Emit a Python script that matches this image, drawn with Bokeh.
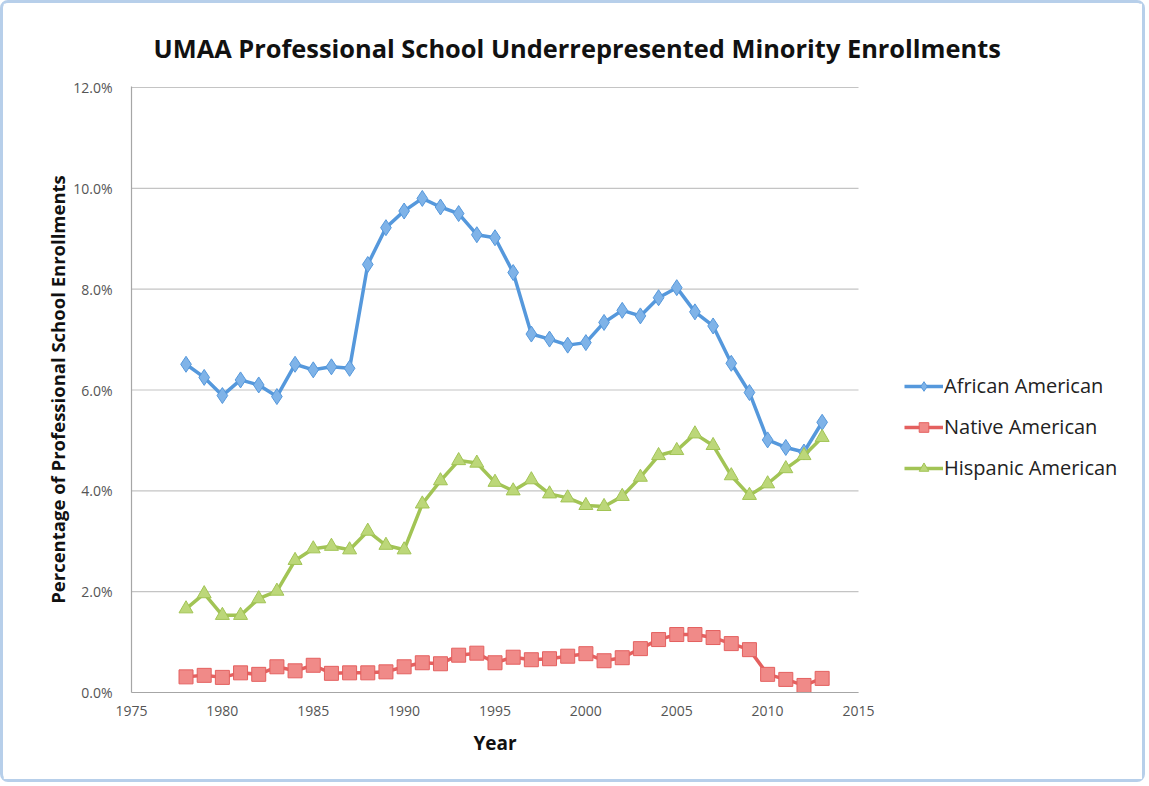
from bokeh.plotting import figure
from bokeh.models import (Legend, LegendItem, FixedTicker, PrintfTickFormatter,
                          Range1d, Title)
from bokeh.embed import file_html
from bokeh.resources import INLINE

years = list(range(1978, 2014))
african = [6.51, 6.25, 5.89, 6.20, 6.10, 5.87, 6.51, 6.40, 6.46, 6.43,
           8.49, 9.22, 9.55, 9.80, 9.63, 9.50, 9.08, 9.02, 8.33, 7.11,
           7.01, 6.89, 6.94, 7.34, 7.58, 7.47, 7.83, 8.03, 7.55, 7.27,
           6.53, 5.95, 5.01, 4.86, 4.77, 5.36]
native = [0.31, 0.34, 0.30, 0.39, 0.36, 0.51, 0.43, 0.54, 0.38, 0.39,
          0.39, 0.41, 0.51, 0.59, 0.57, 0.74, 0.78, 0.59, 0.70, 0.65,
          0.67, 0.72, 0.77, 0.63, 0.69, 0.87, 1.05, 1.15, 1.15, 1.09,
          0.97, 0.85, 0.36, 0.26, 0.14, 0.28]
hispanic = [1.66, 1.96, 1.53, 1.53, 1.86, 2.01, 2.62, 2.85, 2.90, 2.83,
            3.20, 2.92, 2.83, 3.74, 4.20, 4.60, 4.55, 4.17, 4.00, 4.22,
            3.94, 3.86, 3.71, 3.69, 3.89, 4.27, 4.70, 4.80, 5.13, 4.90,
            4.30, 3.91, 4.14, 4.44, 4.70, 5.06]
x_ticks = [1975, 1980, 1985, 1990, 1995, 2000, 2005, 2010, 2015]
y_ticks = [0, 2, 4, 6, 8, 10, 12]

title_text = "UMAA Professional School Underrepresented Minority Enrollments"
x_label = "Year"
y_label = "Percentage of Professional School Enrollments"
font = "Open Sans"

# The plotting frame is widened to the right so the legend (which sits
# right of the axes) is drawn inside the canvas; axis and grid are bounded
# to the real data window 1975-2015 (727 px wide).
W, H = 1145, 782
ML, MR, MT, MB = 128, 12, 83, 93
frame_w = W - ML - MR
x_end = 1975 + 40 * frame_w / 727

p = figure(width=W, height=H, output_backend="svg", toolbar_location=None,
           x_range=Range1d(1975, x_end), y_range=Range1d(0, 12.02),
           min_border_left=ML, min_border_right=MR, min_border_top=MT,
           min_border_bottom=MB, title=title_text)
p.styles = {"border": "3px solid #b7cfea", "border-radius": "8px"}
p.outline_line_color = None
p.background_fill_color = "white"
p.border_fill_color = "white"

p.title.text_font = font
p.title.text_font_size = "25.4px"
p.title.text_font_style = "bold"
p.title.text_color = "#111111"
p.title.align = "left"
p.title.offset = 22
p.title.standoff = 43

p.xaxis.ticker = FixedTicker(ticks=x_ticks)
p.yaxis.ticker = FixedTicker(ticks=y_ticks)
p.xaxis.bounds = (x_ticks[0], x_ticks[-1])
p.yaxis.formatter = PrintfTickFormatter(format="%.1f%%")
p.xgrid.grid_line_color = None
p.ygrid.grid_line_color = None
# horizontal grid lines limited to the 1975-2015 window
p.segment(x0=x_ticks[0], x1=x_ticks[-1], y0=y_ticks, y1=y_ticks,
          line_color="#c4c4c4", line_width=1.2, level="underlay")
for ax in (p.xaxis, p.yaxis):
    ax.axis_line_color = "#a6a6a6"
    ax.axis_line_width = 1.2
    ax.major_tick_line_color = None
    ax.minor_tick_line_color = None
    ax.major_label_text_font = font
    ax.major_label_text_font_size = "14px"
    ax.major_label_text_color = "#555555"
p.xaxis.major_label_standoff = 7
p.yaxis.major_label_standoff = 13
p.yaxis.axis_label = y_label
p.yaxis.axis_label_text_font = font
p.yaxis.axis_label_text_font_style = "bold"
p.yaxis.axis_label_text_color = "#111111"
p.yaxis.axis_label_text_font_size = "18.5px"
p.yaxis.axis_label_standoff = 0

xt = Title(text=x_label, align="left", offset=342, standoff=18,
           text_font=font, text_font_size="19px", text_font_style="bold",
           text_color="#111111")
p.add_layout(xt, "below")

series = [
    ("African American", african, "#5598dc", "#7fb3e8", "diamond", 16),
    ("Native American", native, "#e4605f", "#f08a88", "square", 14),
    ("Hispanic American", hispanic, "#a2c455", "#bcd779", "triangle", 14),
]
items = []
for name, vals, lc, fc, marker, size in series:
    l = p.line(years, vals, line_color=lc, line_width=3.5)
    s = p.scatter(years, vals, marker=marker, size=size, fill_color=fc,
                  line_color=lc, line_width=1)
    items.append(LegendItem(label=name, renderers=[l, s]))

legend = Legend(items=items, location=(773, 211), border_line_color=None,
                background_fill_alpha=0, label_text_font=font,
                label_text_font_size="20px", label_text_color="#222222",
                glyph_width=39, glyph_height=24, spacing=14, label_standoff=1,
                padding=4, margin=0)
p.add_layout(legend)

open("out.html", "w").write(file_html(p, INLINE))
